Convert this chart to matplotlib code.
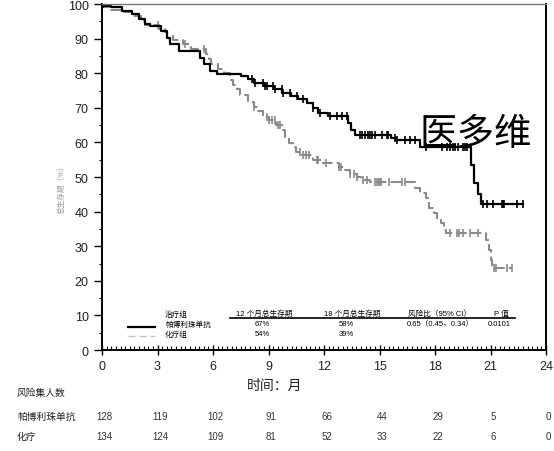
import numpy as np
import matplotlib
matplotlib.use("Agg")
import matplotlib.pyplot as plt
from matplotlib.ticker import MultipleLocator

plt.rcParams['font.family'] = ['Liberation Sans', 'Noto Sans CJK SC', 'DejaVu Sans']

# Kaplan-Meier steps (months, % alive)
pembro_t = [0, 0.1, 0.5, 1.1, 1.6, 2.0, 2.3, 2.6, 3.2, 3.5, 3.7, 4.15, 5.3, 5.5, 5.85,
            6.2, 7.5, 7.9, 8.2, 8.75, 9.3, 9.75, 10.2, 10.6, 11.1, 11.4, 11.7, 12.2, 13.3,
            13.45, 13.65, 15.6, 15.9, 17.2, 19.95, 20.1, 20.3, 20.5, 22.77]
pembro_s = [100, 99.5, 99.0, 98.1, 97.1, 95.6, 94.2, 93.5, 92.2, 90.3, 88.4, 86.4, 84.5, 82.6, 80.6,
            79.7, 79.2, 78.2, 77.2, 76.2, 75.3, 74.3, 73.3, 72.4, 71.4, 70.0, 68.5, 67.5, 65.7,
            63.5, 62.2, 61.2, 60.8, 58.7, 53.5, 48.3, 45.0, 42.2, 42.2]
pembro_cens = [0.05, 8.1, 8.27, 8.72, 8.81, 8.9, 9.26, 9.35, 9.71, 9.8, 10.16, 10.52, 10.88,
               11.42, 11.78, 12.32, 12.69, 12.96, 13.23, 13.95, 14.05, 14.22, 14.4, 14.5, 14.58,
               14.76, 15.12, 15.39, 15.48, 15.84, 15.93, 16.38, 16.65, 16.92, 17.5, 18.36, 18.63,
               18.81, 18.99, 19.1, 19.26, 19.53, 19.62, 19.71, 20.61, 20.83, 21.15, 21.6, 21.67,
               21.73, 22.42, 22.77]

chemo_t = [0, 0.05, 0.5, 1.1, 1.6, 2.1, 2.3, 3.1, 3.4, 3.5, 3.85, 4.4, 4.8, 5.6, 5.8,
           5.9, 6.25, 6.6, 6.9, 7.1, 7.3, 7.45, 7.9, 8.2, 8.45, 8.7, 9.0, 9.4, 9.75, 9.9,
           10.1, 10.3, 10.5, 10.8, 11.4, 11.9, 12.8, 13.1, 13.4, 13.8, 14.0, 14.5, 16.9, 17.2,
           17.5, 17.7, 17.95, 18.1, 18.3, 18.5, 18.6, 20.75, 20.9, 21.0, 21.1, 22.15]
chemo_s = [100, 99.0, 98.3, 97.6, 96.6, 95.2, 93.9, 92.7, 91.8, 90.8, 89.5, 88.5, 86.9, 85.5, 84.0,
           82.6, 81.1, 80.2, 78.0, 76.7, 75.3, 73.8, 71.8, 70.3, 69.0, 67.4, 66.5, 65.0, 63.7, 61.6,
           59.9, 58.7, 57.3, 56.4, 55.0, 54.0, 53.0, 52.0, 51.0, 50.0, 49.1, 48.5, 46.8, 45.3,
           44.0, 41.0, 39.5, 37.5, 36.6, 34.6, 33.7, 31.7, 28.8, 25.9, 23.8, 23.8]
chemo_cens = [3.0, 4.5, 5.5, 8.2, 8.9, 9.05, 9.2, 9.35, 9.5, 9.6, 10.7, 10.85, 11.0, 11.2,
              11.6, 11.7, 12.1, 12.8, 12.9, 13.4, 13.6, 13.8, 14.1, 14.3, 14.76, 14.85, 14.95,
              15.05, 15.1, 15.5, 16.2, 16.4, 18.8, 19.2, 19.3, 19.5, 19.9, 20.3, 21.2, 21.3,
              21.9, 22.15]

# number at risk
risk_months = [0, 3, 6, 9, 12, 15, 18, 21, 24]
pembro_risk = [128, 119, 102, 91, 66, 44, 29, 5, 0]
chemo_risk = [134, 124, 109, 81, 52, 33, 22, 6, 0]

# summary block
group_names = ["帕博利珠单抗", "化疗组"]
os12 = ["67%", "54%"]
os18 = ["58%", "39%"]
hazard_ratio = "0.65（0.45，0.34）"
p_value = "0.0101"

W, H = 554, 452
fig = plt.figure(figsize=(W / 100, H / 100), dpi=100)
ax = fig.add_axes([102 / W, 1 - 351 / H, 444 / W, 346 / H])


def fx(px):
    return px / W


def fy(py):
    return 1 - py / H


def censor_y(times, surv, cens):
    idx = np.searchsorted(times, cens, side='right') - 1
    return np.array(surv)[idx]


gray = '#8a8a8a'
ax.step(chemo_t, chemo_s, where='post', color=gray, lw=1.5, ls=(0, (5, 2)))
ax.plot(chemo_cens, censor_y(chemo_t, chemo_s, chemo_cens), ls='none', marker='|',
        ms=6, mew=1.2, color=gray)
ax.step(pembro_t, pembro_s, where='post', color='black', lw=1.6)
ax.plot(pembro_cens, censor_y(pembro_t, pembro_s, pembro_cens), ls='none', marker='|',
        ms=6, mew=1.2, color='black')

ax.set_xlim(0, 24)
ax.set_ylim(0, 100)
ax.xaxis.set_major_locator(MultipleLocator(3))
ax.xaxis.set_minor_locator(MultipleLocator(0.25))
ax.yaxis.set_major_locator(MultipleLocator(10))
ax.yaxis.set_minor_locator(MultipleLocator(5))
ax.tick_params(axis='x', which='major', direction='inout', length=7, width=1,
               labelsize=9, labelcolor='#222', pad=4)
ax.tick_params(axis='x', which='minor', direction='in', length=3, width=0.8)
ax.tick_params(axis='y', which='major', direction='out', length=6, width=1,
               labelsize=9, labelcolor='#222')
ax.tick_params(axis='y', which='minor', direction='out', length=2, width=0.8)
for side in ['left', 'bottom', 'right']:
    ax.spines[side].set_linewidth(1.4)
ax.spines['top'].set_linewidth(1)
ax.spines['top'].set_color('#777')

fig.text(fx(62), fy(188), "总生存期（%）", rotation=90, ha='center', va='center',
         fontsize=5.5, color='#999')
fig.text(fx(275), fy(386), "时间：月", ha='center', va='center', fontsize=10, color='#222')

# watermark
fig.text(fx(476), fy(134), "医多维", ha='center', va='center', fontsize=27,
         fontweight='light', family=['Noto Sans CJK SC'], color='black')

# summary block inside the plot
fs = 5.5
fig.text(fx(165), fy(315), "治疗组", ha='left', va='center', fontsize=fs)
fig.text(fx(264), fy(314), "12 个月总生存期", ha='center', va='center', fontsize=fs)
fig.text(fx(352), fy(314), "18 个月总生存期", ha='center', va='center', fontsize=fs)
fig.text(fx(440), fy(314), "风险比（95% CI）", ha='center', va='center', fontsize=fs)
fig.text(fx(501), fy(314), "P 值", ha='center', va='center', fontsize=fs)
fig.add_artist(plt.Line2D([fx(230), fx(515)], [fy(318.5), fy(318.5)], color='black', lw=1.2))
for k, py in enumerate([325, 335]):
    fig.text(fx(165), fy(py), group_names[k], ha='left', va='center', fontsize=fs)
    fig.text(fx(262), fy(py), os12[k], ha='center', va='center', fontsize=fs)
    fig.text(fx(346), fy(py), os18[k], ha='center', va='center', fontsize=fs)
fig.text(fx(440), fy(325), hazard_ratio, ha='center', va='center', fontsize=fs)
fig.text(fx(499), fy(325), p_value, ha='center', va='center', fontsize=fs)
fig.add_artist(plt.Line2D([fx(128), fx(155)], [fy(327.5), fy(327.5)], color='black', lw=1.6))
fig.add_artist(plt.Line2D([fx(128), fx(155)], [fy(337), fy(337)], color='#c0c0c0', lw=1,
                          ls=(0, (5, 3))))

# number at risk table, columns follow the x ticks
fig.text(fx(17), fy(393), "风险集人数", ha='left', va='center', fontsize=7, color='#222')
fig.text(fx(17), fy(417), "帕博利珠单抗", ha='left', va='center', fontsize=7, color='#222')
fig.text(fx(17), fy(437), "化疗", ha='left', va='center', fontsize=7, color='#222')
trans = matplotlib.transforms.blended_transform_factory(ax.transData, fig.transFigure)
for m, a, b in zip(risk_months, pembro_risk, chemo_risk):
    ax.text(m + 0.15, fy(417), str(a), transform=trans, ha='center', va='center',
            fontsize=7, color='#333', clip_on=False)
    ax.text(m + 0.15, fy(437), str(b), transform=trans, ha='center', va='center',
            fontsize=7, color='#333', clip_on=False)

fig.savefig("out.png", dpi=100)
